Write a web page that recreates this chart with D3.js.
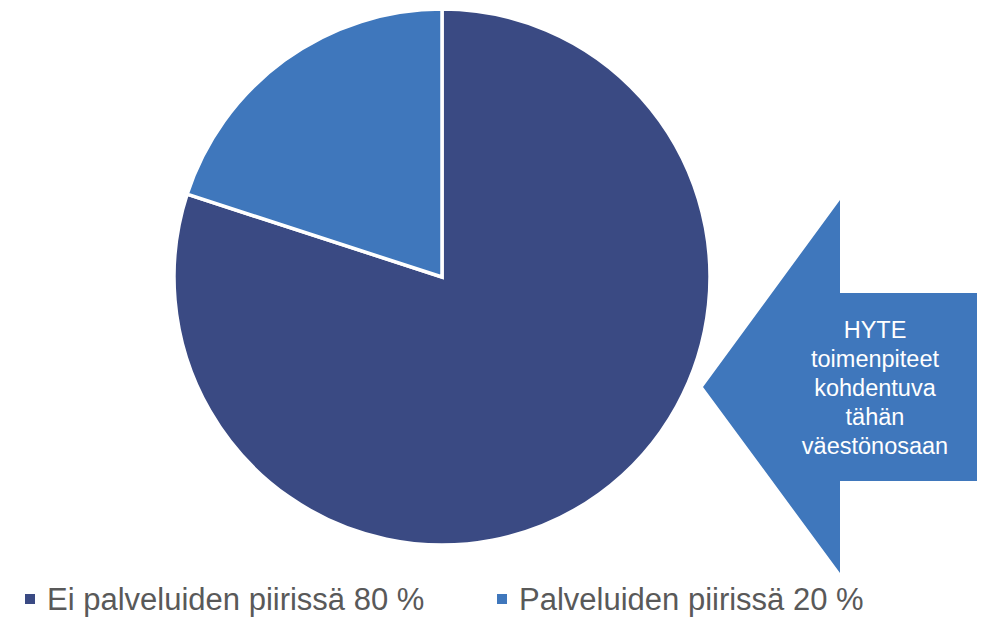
<!DOCTYPE html>
<html>
<head>
<meta charset="utf-8">
<script src="https://cdn.jsdelivr.net/npm/d3@7"></script>
<style>
  body { margin: 0; background: #fff; }
  svg { display: block; font-family: "Liberation Sans", Arial, sans-serif; }
</style>
</head>
<body>
<svg id="canvas" width="989" height="618"></svg>
<script>
// datos del grafico
let categories = ['Ei palveluiden piirissä', 'Palveluiden piirissä'];
let values = [80, 20];
let colors = ['#3a4a83', '#3f77bc'];
let arrowLines = ['HYTE', 'toimenpiteet', 'kohdentuva', 'tähän', 'väestönosaan'];

let canvas = d3.select('#canvas');

// pie
let cx = 442, cy = 277, r = 268;
let pie = d3.pie().sort(null).value(d => d);
let arc = d3.arc().innerRadius(0).outerRadius(r);

canvas.append('g')
    .attr('transform', `translate(${cx},${cy})`)
    .selectAll('path')
    .data(pie(values))
    .enter()
    .append('path')
    .attr('d', arc)
    .attr('fill', (d, i) => colors[i])
    .attr('stroke', '#fff')
    .attr('stroke-width', 3.5)
    .attr('stroke-linejoin', 'miter');

// flecha a la izquierda
let arrow = canvas.append('g');
let pts = [[703, 387], [840, 200], [840, 293], [977, 293], [977, 481], [840, 481], [840, 573]];
arrow.append('path')
    .attr('d', d3.line()(pts) + 'Z')
    .attr('fill', colors[1]);

arrow.selectAll('text')
    .data(arrowLines)
    .enter()
    .append('text')
    .attr('x', 875)
    .attr('y', (d, i) => 338 + i * 29)
    .attr('text-anchor', 'middle')
    .attr('fill', '#fff')
    .attr('font-size', 23.5)
    .text(d => d);

// leyenda
let legendX = [25, 497];
let legend = canvas.append('g').selectAll('g')
    .data(categories)
    .enter()
    .append('g')
    .attr('transform', (d, i) => `translate(${legendX[i]},0)`);

legend.append('rect')
    .attr('x', 0).attr('y', 594)
    .attr('width', 10).attr('height', 10)
    .attr('fill', (d, i) => colors[i]);

legend.append('text')
    .attr('x', 22).attr('y', 610)
    .attr('fill', '#595959')
    .attr('font-size', 31)
    .text((d, i) => d + ' ' + values[i] + ' %');
</script>
</body>
</html>
